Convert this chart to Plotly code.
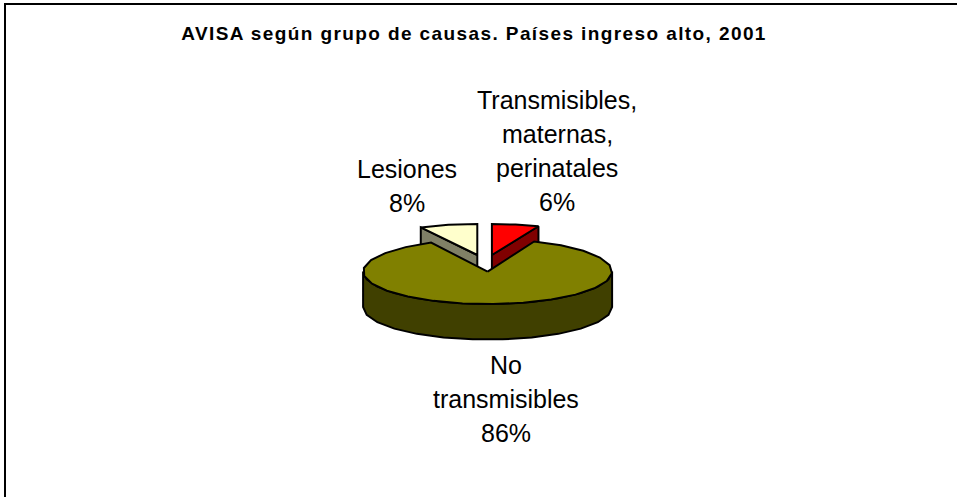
"""AVISA por grupo de causas: pastel 3D dibujado con polígonos sobre ejes en píxeles."""

import numpy as np
import plotly.graph_objects as go

TITLE = "AVISA según grupo de causas. Países ingreso alto, 2001"
categories = [["Transmisibles,", "maternas,", "perinatales"], ["No", "transmisibles"], ["Lesiones"]]
shares = [6.1, 86.4, 7.5]

top_colors = ["#FF0000", "#808000", "#FFFFCC"]
side_colors = ["#800000", "#404000", "#808066"]

# pie geometry, in page pixels
CX, CY = 487.6, 271.6
RX, RY = 124.5, 32.5
RY_EXPLODED = 31
DEPTH = 35.5
OFFSETS = [(4.3, -16.6), (0, 0), (-10.3, -16.6)]
LABEL_POS = [(557, 100), (506, 365), (407, 169)]
LINE_GAP = 34
ARC_STEP = 14.0
LINE_W = 2


def arc(a0, a1, dx=0, dy=0, ry=RY):
    n = max(2, int(round(abs(a1 - a0) / ARC_STEP)) + 1)
    t = np.radians(np.linspace(a0, a1, n))
    return CX + dx + RX * np.sin(t), CY + dy - ry * np.cos(t)


def add_poly(fig, x, y, color):
    fig.add_trace(
        go.Scatter(
            x=np.r_[x, x[0]],
            y=np.r_[y, y[0]],
            mode="lines",
            fill="toself",
            fillcolor=color,
            line=dict(color="black", width=LINE_W),
            hoverinfo="skip",
            showlegend=False,
        )
    )


angles = np.cumsum([0] + shares) / sum(shares) * 360

fig = go.Figure()

# exploded slices first, the big slice covers the bottom of their faces
for i in (0, 2):
    a0, a1 = angles[i], angles[i + 1]
    dx, dy = OFFSETS[i]
    ax, ay = CX + dx, CY + dy
    edge = a1 if i == 0 else a0
    ex, ey = arc(edge, edge, dx, dy, RY_EXPLODED)
    add_poly(
        fig,
        [ax, ex[0], ex[0], ax],
        [ay, ey[0], ey[0] + DEPTH, ay + DEPTH],
        side_colors[i],
    )
    x, y = arc(a0, a1, dx, dy, RY_EXPLODED)
    add_poly(fig, np.r_[ax, x], np.r_[ay, y], top_colors[i])

# front wall and top of the big slice
x, y = arc(90, 270)
add_poly(fig, np.r_[x, x[::-1]], np.r_[y, y[::-1] + DEPTH], side_colors[1])
x, y = arc(angles[1], angles[2])
add_poly(fig, np.r_[CX, x], np.r_[CY, y], top_colors[1])

for name, share, (lx, ly) in zip(categories, shares, LABEL_POS):
    for k, line in enumerate(name + [f"{round(share)}%"]):
        fig.add_annotation(
            x=lx,
            y=ly + k * LINE_GAP,
            text=line,
            showarrow=False,
            font=dict(family="Liberation Sans", size=25, color="black"),
        )

fig.add_annotation(
    x=473.5,
    y=33,
    text=f"<b>{TITLE}</b>",
    showarrow=False,
    font=dict(family="Liberation Sans", size=19, color="black"),
)

# chart frame: only top and left edges fall inside the crop
fig.add_shape(type="line", x0=4, x1=957, y0=4, y1=4, line=dict(color="black", width=2))
fig.add_shape(type="line", x0=5, x1=5, y0=4, y1=497, line=dict(color="black", width=2))

fig.update_layout(
    width=957,
    height=497,
    margin=dict(l=0, r=0, t=0, b=0),
    paper_bgcolor="white",
    plot_bgcolor="white",
    xaxis=dict(range=[0, 957], visible=False),
    yaxis=dict(range=[497, 0], visible=False),
)

# no page margin, and the wide tracking of the original title
post_script = """
document.body.style.margin = '0';
document.querySelectorAll('.annotation-text').forEach(function (t) {
    if (t.textContent.indexOf('AVISA') === 0) { t.style.letterSpacing = '1.4px'; }
});
"""
fig.write_html("out.html", post_script=post_script, config=dict(displayModeBar=False))
